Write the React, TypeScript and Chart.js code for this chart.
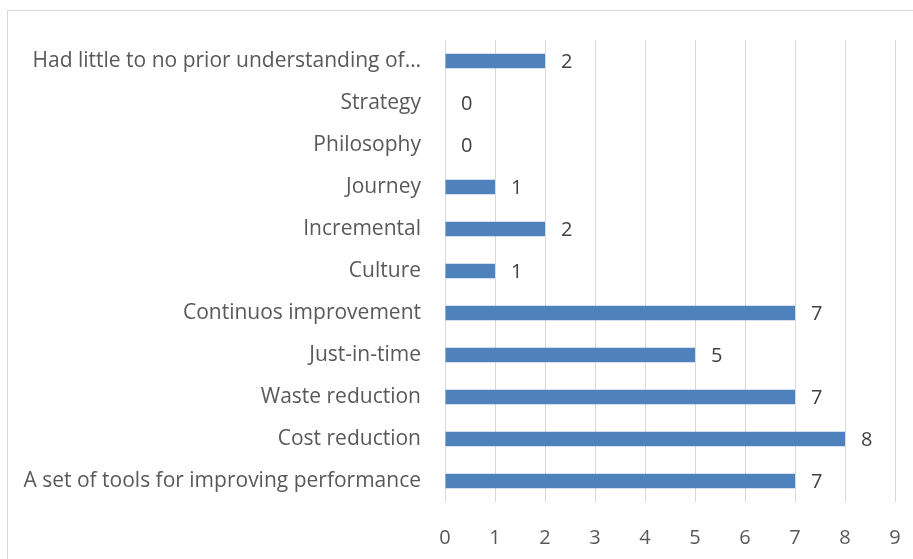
import React, { useEffect, useRef } from "react";
import { Chart, registerables } from "chart.js";

Chart.register(...registerables);

const categories: string[] = [
  "Had little to no prior understanding of…",
  "Strategy",
  "Philosophy",
  "Journey",
  "Incremental",
  "Culture",
  "Continuos improvement",
  "Just-in-time",
  "Waste reduction",
  "Cost reduction",
  "A set of tools for improving performance",
];

const counts: number[] = [2, 0, 0, 1, 2, 1, 7, 5, 7, 8, 7];

const xMin = 0;
const xMax = 9;
const xStep = 1;

const FONT = "'Open Sans', 'DejaVu Sans', sans-serif";
const TEXT = "#595959";

const valueLabels = {
  id: "valueLabels",
  afterDatasetsDraw(chart: any) {
    const ctx = chart.ctx;
    const meta = chart.getDatasetMeta(0);
    ctx.save();
    ctx.font = `20px ${FONT}`;
    ctx.fillStyle = "#404040";
    ctx.textAlign = "left";
    ctx.textBaseline = "middle";
    meta.data.forEach((bar: any, i: number) => {
      const v = chart.data.datasets[0].data[i];
      ctx.fillText(String(v), bar.x + 16, bar.y + 1);
    });
    ctx.restore();
  },
};

export default function App() {
  const ref = useRef<HTMLCanvasElement | null>(null);

  useEffect(() => {
    if (!ref.current) return;
    const chart = new Chart(ref.current, {
      type: "bar",
      data: {
        labels: categories,
        datasets: [
          {
            data: counts,
            backgroundColor: "#4F81BD",
            borderWidth: 0,
            barPercentage: 0.35,
            categoryPercentage: 1,
          },
        ],
      },
      options: {
        indexAxis: "y",
        animation: false,
        responsive: false,
        maintainAspectRatio: false,
        layout: { padding: { top: 40, right: 18, bottom: 0, left: 0 } },
        plugins: {
          legend: { display: false },
          tooltip: { enabled: false },
        },
        scales: {
          x: {
            min: xMin,
            max: xMax,
            ticks: {
              stepSize: xStep,
              color: TEXT,
              font: { family: FONT, size: 20 },
              padding: 24,
            },
            grid: { color: "#D9D9D9", lineWidth: 1, drawTicks: false },
            border: { display: false },
            afterFit(scale: any) {
              scale.height = 57;
              scale.paddingRight = 0;
              scale.paddingLeft = 0;
            },
          },
          y: {
            ticks: {
              color: TEXT,
              font: { family: FONT, size: 21 },
              padding: 24,
              autoSkip: false,
            },
            grid: { display: false, drawTicks: false },
            border: { display: false },
            afterFit(scale: any) {
              scale.width = 445;
              scale.paddingTop = 0;
              scale.paddingBottom = 0;
            },
          },
        },
      },
      plugins: [valueLabels],
    });
    return () => chart.destroy();
  }, []);

  return (
    <div style={{ position: "fixed", left: 0, top: 0, width: 913, height: 559, background: "#fff", overflow: "hidden" }}>
      <div
        style={{
          position: "absolute",
          left: 7,
          top: 10,
          width: 920,
          height: 560,
          border: "1px solid #D9D9D9",
          boxSizing: "border-box",
        }}
      />
      <canvas ref={ref} width={913} height={559} style={{ position: "absolute", left: 0, top: 0 }} />
    </div>
  );
}
